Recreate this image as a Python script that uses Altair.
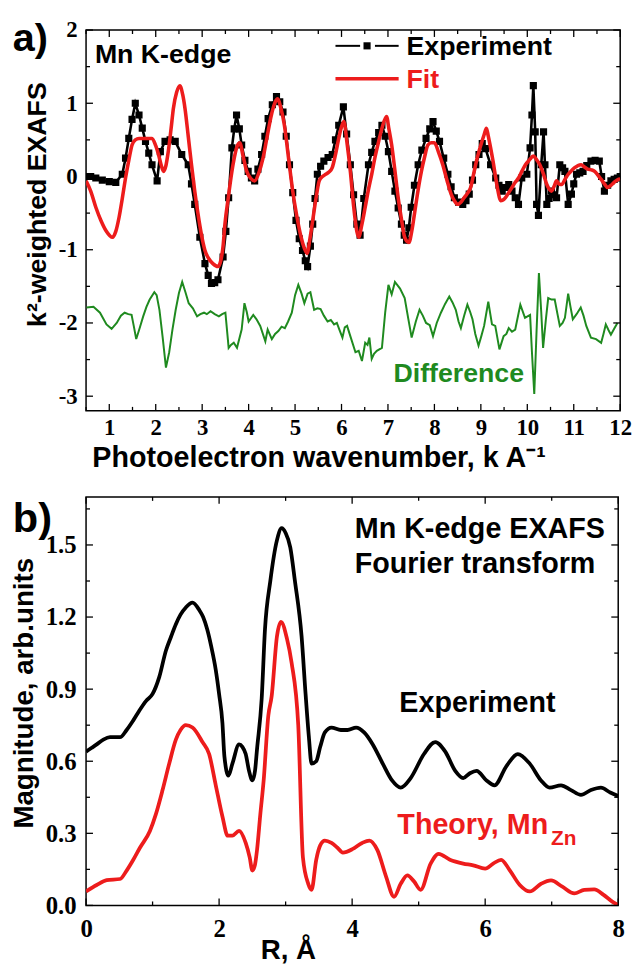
import altair as alt
import pandas as pd

# ---------------- data: panel a (k-space EXAFS) ----------------
A_K_EXP = [0.50, 0.60, 0.71, 0.85, 1.00, 1.14, 1.28, 1.35, 1.42, 1.49, 1.56, 1.64, 1.71, 1.78, 1.85,
           1.92, 2.03, 2.10, 2.20, 2.31, 2.42, 2.56, 2.70, 2.77, 2.84, 2.95, 3.06, 3.13, 3.20, 3.27,
           3.34, 3.45, 3.51, 3.57, 3.64, 3.69, 3.74, 3.80, 3.85, 3.92, 3.99, 4.06, 4.13, 4.20, 4.28,
           4.35, 4.42, 4.51, 4.60, 4.67, 4.74, 4.81, 4.88, 4.95, 5.02, 5.09, 5.16, 5.22, 5.27, 5.33,
           5.38, 5.43, 5.48, 5.55, 5.62, 5.71, 5.80, 5.87, 5.94, 6.04, 6.11, 6.19, 6.26, 6.33, 6.40,
           6.48, 6.58, 6.65, 6.72, 6.80, 6.87, 6.94, 7.01, 7.08, 7.15, 7.22, 7.29, 7.35, 7.40, 7.45,
           7.50, 7.57, 7.65, 7.73, 7.82, 7.90, 7.97, 8.04, 8.11, 8.20, 8.29, 8.36, 8.43, 8.52, 8.61,
           8.68, 8.75, 8.82, 8.89, 8.96, 9.03, 9.10, 9.21, 9.32, 9.39, 9.46, 9.53, 9.60, 9.67, 9.74,
           9.81, 9.88, 9.99, 10.06, 10.10, 10.13, 10.17, 10.20, 10.24, 10.30, 10.35, 10.38, 10.42,
           10.47, 10.52, 10.58, 10.63, 10.70, 10.76, 10.81, 10.88, 10.95, 11.00, 11.06, 11.13, 11.20,
           11.28, 11.37, 11.46, 11.55, 11.60, 11.66, 11.73, 11.80, 11.87, 11.94, 12.00]
A_EXP = [0.00, 0.00, -0.02, -0.05, -0.07, -0.08, 0.03, 0.25, 0.52, 0.78, 1.00, 0.84, 0.66, 0.48, 0.32,
         0.16, -0.06, 0.34, 0.48, 0.50, 0.48, 0.30, 0.16, -0.10, -0.38, -0.83, -1.19, -1.35, -1.46, -1.45,
         -1.41, -1.10, -0.75, -0.29, 0.39, 0.65, 0.84, 0.65, 0.43, 0.22, 0.07, -0.02, -0.06, 0.10, 0.30,
         0.55, 0.79, 0.98, 1.09, 1.02, 0.88, 0.55, 0.16, -0.22, -0.60, -0.85, -1.01, -1.15, -1.23, -0.95,
         -0.65, -0.30, 0.03, 0.14, 0.21, 0.26, 0.30, 0.50, 0.70, 0.95, 0.58, 0.16, -0.25, -0.65, -0.80,
         -0.30, 0.16, 0.33, 0.48, 0.60, 0.70, 0.55, 0.34, 0.07, -0.20, -0.43, -0.65, -0.80, -0.87, -0.70,
         -0.42, -0.12, 0.16, 0.36, 0.52, 0.65, 0.75, 0.62, 0.48, 0.25, 0.03, -0.14, -0.29, -0.35, -0.38,
         -0.33, -0.24, -0.05, 0.16, 0.30, 0.45, 0.38, 0.16, -0.02, -0.12, -0.20, -0.15, -0.11, -0.20, -0.29,
         -0.38, -0.02, 0.03, 0.39, 0.84, 1.24, 0.61, -0.38, -0.53, 0.16, 0.61, 0.16, -0.38,
         -0.30, -0.20, -0.25, -0.29, 0.16, 0.12, 0.07, -0.38, -0.24, -0.10, 0.03, 0.05, 0.07,
         0.15, 0.21, 0.22, 0.21, 0.00, -0.20, -0.12, -0.06, -0.04, -0.02, 0.00]

A_K_FIT = [0.50, 0.60, 0.71, 0.82, 0.93, 1.07, 1.14, 1.21, 1.28, 1.35, 1.42, 1.49, 1.56, 1.64, 1.78,
           1.92, 2.00, 2.06, 2.12, 2.17, 2.22, 2.27, 2.33, 2.38, 2.45, 2.52, 2.58, 2.63, 2.70, 2.77,
           2.84, 2.91, 2.98, 3.06, 3.14, 3.23, 3.34, 3.40, 3.45, 3.49, 3.56, 3.64, 3.69, 3.74, 3.81,
           3.88, 3.96, 4.05, 4.13, 4.22, 4.31, 4.40, 4.49, 4.55, 4.62, 4.70, 4.77, 4.86, 4.95, 5.04,
           5.13, 5.20, 5.26, 5.32, 5.38, 5.45, 5.52, 5.59, 5.66, 5.73, 5.80, 5.87, 5.94, 6.00, 6.05,
           6.12, 6.19, 6.26, 6.33, 6.37, 6.44, 6.51, 6.58, 6.65, 6.72, 6.80, 6.88, 6.97, 7.02, 7.08,
           7.15, 7.22, 7.29, 7.36, 7.45, 7.52, 7.58, 7.65, 7.72, 7.79, 7.86, 7.93, 8.00, 8.09, 8.18,
           8.27, 8.36, 8.43, 8.50, 8.57, 8.64, 8.71, 8.78, 8.85, 8.92, 9.00, 9.07, 9.12, 9.16, 9.21,
           9.27, 9.32, 9.37, 9.42, 9.48, 9.53, 9.60, 9.67, 9.74, 9.81, 9.89, 9.96, 10.05, 10.13, 10.20,
           10.27, 10.35, 10.42, 10.47, 10.52, 10.58, 10.63, 10.68, 10.74, 10.81, 10.88, 10.95, 11.02,
           11.09, 11.16, 11.23, 11.30, 11.38, 11.45, 11.52, 11.59, 11.66, 11.73, 11.80, 11.87, 11.93, 12.00]
A_FIT = [-0.06, -0.20, -0.42, -0.60, -0.74, -0.83, -0.75, -0.56, -0.30, -0.02, 0.22, 0.43, 0.50, 0.52, 0.52,
         0.52, 0.42, 0.30, 0.15, 0.07, 0.15, 0.34, 0.65, 0.93, 1.15, 1.24, 1.12, 0.93, 0.55, 0.16,
         -0.20, -0.51, -0.78, -1.01, -1.12, -1.19, -1.23, -1.15, -0.95, -0.65, -0.30, 0.07, 0.25, 0.39, 0.46,
         0.28, 0.07, -0.03, -0.06, 0.05, 0.25, 0.55, 0.84, 0.98, 1.06, 0.92, 0.70, 0.25, -0.20, -0.55,
         -0.83, -0.98, -1.05, -0.85, -0.60, -0.30, -0.06, 0.00, 0.03, 0.06, 0.12, 0.30, 0.52, 0.68, 0.75,
         0.45, 0.07, -0.40, -0.75, -0.83, -0.65, -0.42, -0.18, 0.03, 0.26, 0.48, 0.68, 0.82, 0.65, 0.43,
         0.08, -0.29, -0.58, -0.83, -0.90, -0.72, -0.47, -0.18, 0.07, 0.27, 0.43, 0.46, 0.46, 0.33, 0.16,
         -0.05, -0.24, -0.33, -0.38, -0.35, -0.29, -0.23, -0.15, 0.05, 0.25, 0.43, 0.57, 0.66, 0.55, 0.39,
         0.18, -0.02, -0.20, -0.33, -0.32, -0.29, -0.22, -0.15, -0.08, -0.02, 0.08, 0.16, 0.23, 0.28, 0.23,
         0.16, 0.03, -0.11, -0.17, -0.20, -0.13, -0.06, -0.10, -0.11, -0.04, 0.03, 0.08, 0.12,
         0.15, 0.16, 0.13, 0.10, 0.09, 0.07, 0.02, -0.04, -0.10, -0.15, -0.12, -0.08, -0.05, -0.03]

A_K_DIFF = [0.51, 0.66, 0.80, 0.94, 1.05, 1.16, 1.25, 1.33, 1.41, 1.48, 1.53, 1.58, 1.65, 1.73, 1.80,
            1.87, 1.97, 2.02, 2.08, 2.15, 2.22, 2.29, 2.36, 2.43, 2.50, 2.57, 2.64, 2.71, 2.80, 2.89,
            2.96, 3.04, 3.10, 3.18, 3.27, 3.36, 3.43, 3.50, 3.57, 3.62, 3.68, 3.75, 3.85, 3.91, 3.96,
            4.00, 4.10, 4.17, 4.25, 4.36, 4.41, 4.50, 4.57, 4.64, 4.71, 4.78, 4.85, 4.93, 5.00, 5.07,
            5.14, 5.20, 5.27, 5.33, 5.41, 5.48, 5.55, 5.62, 5.70, 5.77, 5.84, 5.90, 5.96, 6.02, 6.07,
            6.12, 6.20, 6.30, 6.37, 6.44, 6.51, 6.56, 6.60, 6.65, 6.70, 6.76, 6.87, 6.94, 7.01, 7.08,
            7.15, 7.26, 7.36, 7.44, 7.51, 7.60, 7.68, 7.75, 7.82, 7.90, 7.97, 8.05, 8.14, 8.23, 8.32,
            8.39, 8.46, 8.52, 8.57, 8.64, 8.71, 8.77, 8.82, 8.88, 8.95, 9.01, 9.07, 9.16, 9.24, 9.31,
            9.40, 9.49, 9.55, 9.60, 9.67, 9.74, 9.85, 9.95, 10.06, 10.10, 10.15, 10.20, 10.25, 10.30,
            10.34, 10.40, 10.45, 10.52, 10.59, 10.65, 10.70, 10.76, 10.81, 10.88, 10.93, 10.98, 11.06,
            11.15, 11.21, 11.27, 11.37, 11.48, 11.59, 11.64, 11.69, 11.75, 11.80, 11.87, 11.94]
A_DIFF = [-1.79, -1.78, -1.86, -2.02, -2.08, -2.00, -1.90, -1.86, -1.88, -1.89, -2.05, -2.22, -2.08, -1.91, -1.78,
          -1.68, -1.58, -1.62, -1.82, -2.20, -2.61, -2.40, -2.09, -1.82, -1.59, -1.44, -1.58, -1.73, -1.80, -1.91,
          -1.88, -1.86, -1.88, -1.84, -1.88, -1.91, -1.88, -1.86, -2.34, -2.30, -2.27, -2.34, -2.09, -1.73, -1.85,
          -1.98, -1.89, -1.95, -2.04, -2.25, -2.09, -2.22, -2.15, -2.11, -2.05, -2.07, -1.98, -1.86, -1.62, -1.48,
          -1.60, -1.73, -1.60, -1.58, -1.82, -1.80, -1.81, -1.90, -1.98, -1.96, -2.02, -2.00, -2.10, -2.20, -2.06,
          -2.04, -2.20, -2.40, -2.38, -2.52, -2.27, -2.30, -2.20, -2.49, -2.42, -2.38, -2.34, -1.86, -1.48, -1.61,
          -1.44, -1.53, -1.66, -1.95, -2.20, -1.98, -1.82, -1.90, -2.00, -2.03, -2.18, -2.00, -1.86, -1.74, -1.64,
          -1.72, -1.82, -1.98, -2.07, -1.90, -1.75, -1.85, -1.95, -2.15, -2.31, -2.18, -2.04, -1.71, -2.02, -2.04,
          -2.36, -2.18, -2.15, -2.07, -2.12, -2.09, -1.75, -1.93, -1.89, -2.40, -2.97, -2.10, -1.32, -1.85,
          -2.34, -1.95, -1.66, -1.68, -1.68, -1.88, -2.04, -2.00, -1.93, -1.60, -1.78, -1.95, -1.88,
          -1.79, -1.90, -2.04, -2.20, -2.22, -2.27, -2.15, -2.02, -2.10, -2.16, -2.08, -2.00]

# ---------------- data: panel b (Fourier transform) ----------------
B_R_EXP = [0.00, 0.08, 0.16, 0.26, 0.36, 0.45, 0.51, 0.61, 0.71, 0.80, 0.90, 1.00, 1.10, 1.20, 1.28,
           1.35, 1.42, 1.50, 1.60, 1.70, 1.76, 1.82, 1.88, 1.95, 2.00, 2.05, 2.08, 2.14, 2.20, 2.30,
           2.35, 2.40, 2.45, 2.50, 2.54, 2.57, 2.64, 2.69, 2.77, 2.87, 2.94, 3.00, 3.07, 3.14, 3.24,
           3.30, 3.35, 3.39, 3.46, 3.52, 3.59, 3.69, 3.83, 3.93, 4.06, 4.18, 4.31, 4.46, 4.60, 4.73,
           4.88, 5.08, 5.25, 5.40, 5.55, 5.67, 5.77, 5.87, 6.02, 6.14, 6.32, 6.49, 6.67, 6.84, 6.97,
           7.14, 7.29, 7.44, 7.59, 7.74, 7.88, 8.00]
B_EXP = [0.64, 0.655, 0.67, 0.69, 0.70, 0.70, 0.70, 0.73, 0.77, 0.81, 0.85, 0.88, 0.95, 1.06, 1.12,
         1.17, 1.21, 1.24, 1.26, 1.23, 1.20, 1.15, 1.08, 0.98, 0.88, 0.76, 0.62, 0.54, 0.59, 0.67,
         0.66, 0.63, 0.56, 0.52, 0.56, 0.65, 0.86, 1.15, 1.35, 1.52, 1.57, 1.55, 1.49, 1.35, 1.12,
         0.88, 0.70, 0.59, 0.60, 0.66, 0.72, 0.74, 0.73, 0.73, 0.74, 0.72, 0.67, 0.59, 0.52, 0.49,
         0.53, 0.63, 0.68, 0.64, 0.56, 0.53, 0.55, 0.56, 0.52, 0.50, 0.58, 0.63, 0.59, 0.52, 0.49,
         0.50, 0.48, 0.46, 0.48, 0.49, 0.47, 0.455]

B_R_TH = [0.00, 0.16, 0.31, 0.51, 0.61, 0.71, 0.81, 0.96, 1.05, 1.15, 1.25, 1.35, 1.42, 1.50, 1.60,
          1.75, 1.85, 1.95, 2.05, 2.13, 2.20, 2.30, 2.40, 2.46, 2.50, 2.54, 2.57, 2.62, 2.67, 2.74,
          2.79, 2.87, 2.93, 3.02, 3.09, 3.19, 3.26, 3.34, 3.39, 3.46, 3.52, 3.59, 3.69, 3.78, 3.86,
          4.01, 4.15, 4.26, 4.38, 4.51, 4.63, 4.73, 4.83, 4.93, 5.03, 5.18, 5.30, 5.47, 5.67, 5.82,
          6.00, 6.12, 6.24, 6.37, 6.52, 6.67, 6.84, 6.99, 7.16, 7.34, 7.49, 7.64, 7.78, 7.91, 8.00]
B_TH = [0.058, 0.085, 0.105, 0.11, 0.145, 0.19, 0.24, 0.31, 0.38, 0.48, 0.59, 0.69, 0.73, 0.75, 0.74,
        0.68, 0.63, 0.50, 0.37, 0.29, 0.29, 0.31, 0.26, 0.20, 0.145, 0.17, 0.23, 0.38, 0.52, 0.79,
        0.87, 1.12, 1.18, 1.11, 1.01, 0.75, 0.20, 0.09, 0.065, 0.19, 0.25, 0.27, 0.26, 0.24, 0.22,
        0.235, 0.26, 0.27, 0.23, 0.12, 0.036, 0.09, 0.125, 0.10, 0.065, 0.174, 0.215, 0.19, 0.174, 0.167,
        0.153, 0.174, 0.19, 0.146, 0.085, 0.058, 0.09, 0.104, 0.078, 0.05, 0.065, 0.067, 0.044, 0.016, 0.002]

# ---------------- tick values ----------------
A_X_MAJOR = [1, 2, 3, 4, 5, 6, 7, 8, 9, 10, 11, 12]
A_X_MINOR = [0.5, 1.5, 2.5, 3.5, 4.5, 5.5, 6.5, 7.5, 8.5, 9.5, 10.5, 11.5]
A_Y_MAJOR = [-3, -2, -1, 0, 1, 2]
A_Y_MINOR = [-2.5, -1.5, -0.5, 0.5, 1.5]
B_X_MAJOR = [0, 2, 4, 6, 8]
B_X_MINOR = [1, 3, 5, 7]
B_Y_MAJOR = [0.0, 0.3, 0.6, 0.9, 1.2, 1.5]
B_Y_MINOR = [0.15, 0.45, 0.75, 1.05, 1.35, 1.65]

RED = "#ED1C1C"
GREEN = "#1F8A1F"
SANS = "Liberation Sans"
SERIF = "Liberation Serif"

WA, HA = 540, 385
WB, HB = 538, 413

xsA = alt.Scale(domain=[0.5, 12], nice=False, zero=False)
ysA = alt.Scale(domain=[-3.2, 2], nice=False, zero=False)
xsB = alt.Scale(domain=[0, 8], nice=False, zero=False)
ysB = alt.Scale(domain=[0, 1.7], nice=False, zero=False)

# ---------------- axes ----------------
axXA = alt.Axis(
    title="Photoelectron wavenumber, k A\u207b\u00b9", values=A_X_MAJOR, ticks=False, domain=False, grid=False,
    labelFont=SERIF, labelFontWeight="bold", labelFontSize=23, labelColor="black", labelPadding=6,
    labelFlush=False, labelOverlap=False,
    titleFont=SANS, titleFontWeight="bold", titleFontSize=29, titleColor="black",
    titleX=235, titleY=56, titleAlign="center", titleBaseline="alphabetic",
)
axYA = alt.Axis(
    title="k\u00b2-weighted EXAFS", values=A_Y_MAJOR, ticks=False, domain=False, grid=False,
    labelFont=SERIF, labelFontWeight="bold", labelFontSize=23, labelColor="black", labelPadding=9,
    labelFlush=False, labelOverlap=False, labelExpr="'' + datum.value",
    titleFont=SANS, titleFontWeight="bold", titleFontSize=27, titleColor="black",
    titleX=-41, titleY=176, titleAlign="center", titleBaseline="alphabetic",
)
axXB = alt.Axis(
    title="R, \u00c5", values=B_X_MAJOR, ticks=False, domain=False, grid=False,
    labelFont=SERIF, labelFontWeight="bold", labelFontSize=25, labelColor="black", labelPadding=11,
    labelFlush=False, labelOverlap=False,
    titleFont=SANS, titleFontWeight="bold", titleFontSize=28, titleColor="black",
    titleX=204, titleY=54, titleAlign="center", titleBaseline="alphabetic",
)
axYB = alt.Axis(
    title="Magnitude, arb.units", values=B_Y_MAJOR, format=".1f", ticks=False, domain=False, grid=False,
    labelFont=SERIF, labelFontWeight="bold", labelFontSize=25, labelColor="black", labelPadding=10,
    labelFlush=False, labelOverlap=False,
    titleFont=SANS, titleFontWeight="bold", titleFontSize=28, titleColor="black",
    titleX=-54, titleY=198, titleAlign="center", titleBaseline="alphabetic",
)


def XA(f):
    return alt.X(f, scale=xsA, axis=axXA)


def YA(f):
    return alt.Y(f, scale=ysA, axis=axYA)


def XB(f):
    return alt.X(f, scale=xsB, axis=axXB)


def YB(f):
    return alt.Y(f, scale=ysB, axis=axYB)


def inner_ticks(W, H, X, Y, xmaj, xmin, ymaj, ymin, maj=7, mnr=4):
    layers = []
    for vals, L in ((xmaj, maj), (xmin, mnr)):
        base = alt.Chart(pd.DataFrame({"t": vals})).mark_rule(color="black", strokeWidth=1.3)
        layers.append(base.encode(x=X("t:Q"), y=alt.value(H), y2=alt.value(H - L)))
        layers.append(base.encode(x=X("t:Q"), y=alt.value(0), y2=alt.value(L)))
    for vals, L in ((ymaj, maj), (ymin, mnr)):
        base = alt.Chart(pd.DataFrame({"t": vals})).mark_rule(color="black", strokeWidth=1.3)
        layers.append(base.encode(y=Y("t:Q"), x=alt.value(0), x2=alt.value(L)))
        layers.append(base.encode(y=Y("t:Q"), x=alt.value(W), x2=alt.value(W - L)))
    return layers


def text_layer(df, X, Y, size, color):
    return alt.Chart(df).mark_text(
        align="left", baseline="alphabetic", font=SANS, fontWeight="bold", fontSize=size, color=color
    ).encode(x=X("x:Q"), y=Y("y:Q"), text="s:N")


# ---------------- panel a ----------------
df_exp = pd.DataFrame({"k": A_K_EXP, "v": A_EXP})
df_fit = pd.DataFrame({"k": A_K_FIT, "v": A_FIT})
df_diff = pd.DataFrame({"k": A_K_DIFF, "v": A_DIFF})

exp_line = alt.Chart(df_exp).mark_line(color="black", strokeWidth=2.6, clip=True).encode(
    x=XA("k:Q"), y=YA("v:Q"))
exp_pts = alt.Chart(df_exp).mark_square(color="black", size=52, opacity=1, filled=True, clip=True).encode(
    x=XA("k:Q"), y=YA("v:Q"))
fit_line = alt.Chart(df_fit).mark_line(color=RED, strokeWidth=3.6, clip=True, interpolate="monotone").encode(
    x=XA("k:Q"), y=YA("v:Q"))
diff_line = alt.Chart(df_diff).mark_line(color=GREEN, strokeWidth=2, clip=True).encode(
    x=XA("k:Q"), y=YA("v:Q"))

# legend samples (in data coordinates)
leg_exp_seg = pd.DataFrame({"x": [5.87, 6.72], "x2": [6.40, 7.23], "y": [1.784, 1.784]})
leg_exp_pt = pd.DataFrame({"x": [6.55], "y": [1.784]})
leg_fit_seg = pd.DataFrame({"x": [5.87], "x2": [7.23], "y": [1.334]})
leg1 = alt.Chart(leg_exp_seg).mark_rule(color="black", strokeWidth=2).encode(
    x=XA("x:Q"), x2="x2:Q", y=YA("y:Q"))
leg2 = alt.Chart(leg_exp_pt).mark_square(color="black", size=52, opacity=1).encode(
    x=XA("x:Q"), y=YA("y:Q"))
leg3 = alt.Chart(leg_fit_seg).mark_rule(color=RED, strokeWidth=3.6).encode(
    x=XA("x:Q"), x2="x2:Q", y=YA("y:Q"))

tA_black = text_layer(pd.DataFrame({"x": [0.69, 7.40], "y": [1.55, 1.658], "s": ["Mn K-edge", "Experiment"]}),
                      XA, YA, 27, "black")
tA_red = text_layer(pd.DataFrame({"x": [7.40], "y": [1.207], "s": ["Fit"]}), XA, YA, 27, RED)
tA_green = text_layer(pd.DataFrame({"x": [7.12], "y": [-2.80], "s": ["Difference"]}), XA, YA, 27, GREEN)
labA = alt.Chart(pd.DataFrame({"s": ["a)"]})).mark_text(
    align="left", baseline="alphabetic", font=SANS, fontWeight="bold", fontSize=40, color="black"
).encode(x=alt.value(-74), y=alt.value(21), text="s:N")

panelA = alt.layer(
    exp_line, exp_pts, fit_line, diff_line, leg1, leg2, leg3, tA_black, tA_red, tA_green, labA,
    *inner_ticks(WA, HA, XA, YA, A_X_MAJOR, A_X_MINOR, A_Y_MAJOR, A_Y_MINOR)
).properties(width=WA, height=HA)

# ---------------- panel b ----------------
df_bexp = pd.DataFrame({"r": B_R_EXP, "m": B_EXP})
df_bth = pd.DataFrame({"r": B_R_TH, "m": B_TH})
b_exp = alt.Chart(df_bexp).mark_line(color="black", strokeWidth=3.8, clip=True, interpolate="monotone").encode(
    x=XB("r:Q"), y=YB("m:Q"))
b_th = alt.Chart(df_bth).mark_line(color=RED, strokeWidth=3.8, clip=True, interpolate="monotone").encode(
    x=XB("r:Q"), y=YB("m:Q"))

tB_black = text_layer(pd.DataFrame({"x": [4.04, 4.04, 4.71], "y": [1.529, 1.385, 0.806],
                                    "s": ["Mn K-edge EXAFS", "Fourier transform", "Experiment"]}),
                      XB, YB, 29, "black")
tB_red = text_layer(pd.DataFrame({"x": [4.68], "y": [0.296], "s": ["Theory, Mn"]}), XB, YB, 29, RED)
tB_sub = text_layer(pd.DataFrame({"x": [6.99], "y": [0.251], "s": ["Zn"]}), XB, YB, 21, RED)
labB = alt.Chart(pd.DataFrame({"s": ["b)"]})).mark_text(
    align="left", baseline="alphabetic", font=SANS, fontWeight="bold", fontSize=42, color="black"
).encode(x=alt.value(-74), y=alt.value(35), text="s:N")

panelB = alt.layer(
    b_exp, b_th, tB_black, tB_red, tB_sub, labB,
    *inner_ticks(WB, HB, XB, YB, B_X_MAJOR, B_X_MINOR, B_Y_MAJOR, B_Y_MINOR)
).properties(width=WB, height=HB)

chart = alt.vconcat(panelA, panelB, spacing=87, bounds="flush").properties(
    padding={"left": 10, "top": 13, "right": 5, "bottom": 5}, background="white"
).configure_view(stroke="black", strokeWidth=1.5)

chart.save("out.html", embed_options={"renderer": "svg", "actions": False})
